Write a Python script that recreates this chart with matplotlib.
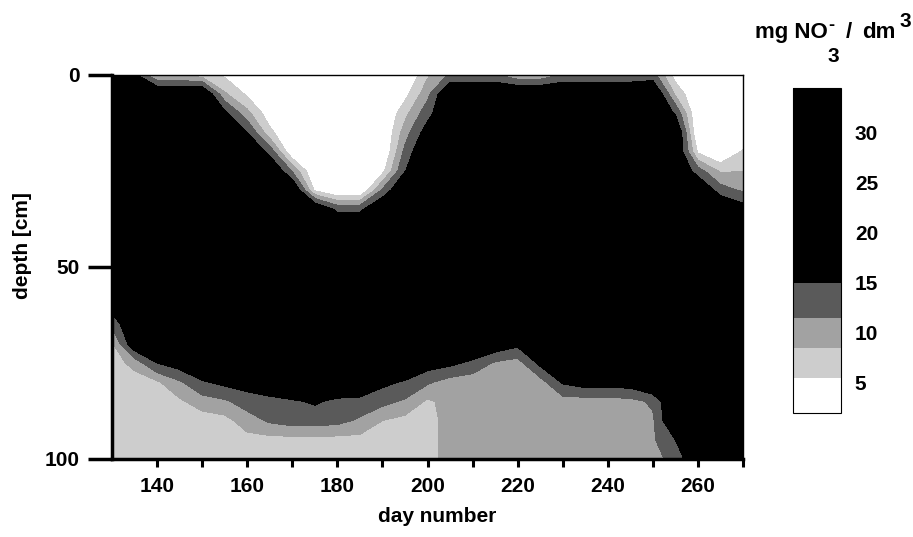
import numpy as np
import matplotlib
matplotlib.use('Agg')
from matplotlib import pyplot as plt

plt.rcParams['font.family'] = ['Liberation Sans', 'DejaVu Sans']
plt.rcParams['font.weight'] = 'bold'

# sampling grid (day number, depth in cm)
days = [130, 135, 140, 145, 150, 155, 160, 165, 170, 175, 180, 185, 190, 195, 200,
        205, 210, 215, 220, 225, 230, 235, 240, 245, 250, 255, 260, 265, 270]
depths = [0, 5, 10, 15, 20, 25, 30, 35, 40, 45, 50, 55, 60, 65, 70, 75, 80, 85, 90, 95, 100]

# nitrate (mg NO3- / dm3), one depth profile per day
profiles = [
    [20, 20, 20, 20, 20, 20, 20, 20, 20, 20, 20, 20, 17, 12, 8, 7, 7, 7, 7, 7, 7],          # 130
    [16, 20, 20, 20, 20, 20, 20, 20, 20, 20, 20, 20, 20, 20, 18, 9.5, 7, 6.5, 6.5, 6.5, 6.5],  # 135
    [8, 20, 20, 20, 20, 20, 20, 20, 20, 20, 20, 20, 20, 20, 20, 15, 8, 6.5, 6.5, 6.5, 6.5],    # 140
    [8, 20, 20, 20, 20, 20, 20, 20, 20, 20, 20, 20, 20, 20, 20, 17, 11, 8, 6.5, 6.5, 6.5],     # 145
    [7, 20, 20, 20, 20, 20, 20, 20, 20, 20, 20, 20, 20, 20, 20, 20, 14.5, 10, 7, 6.5, 6.5],    # 150
    [5, 9, 16, 20, 20, 20, 20, 20, 20, 20, 20, 20, 20, 20, 20, 20, 16, 11, 7.5, 7, 7],         # 155
    [3, 5, 9.5, 15, 20, 20, 20, 20, 20, 20, 20, 20, 20, 20, 20, 20, 17, 13, 10, 7.5, 7],       # 160
    [2, 2, 3.5, 6.4, 13.7, 20, 20, 20, 20, 20, 20, 20, 20, 20, 20, 20, 19, 13.5, 12, 7.5, 7],  # 165
    [2, 2, 2, 2, 2.5, 11.2, 20, 20, 20, 20, 20, 20, 20, 20, 20, 20, 20, 14.5, 13, 7.5, 7],     # 170
    [2, 2, 2, 2, 2, 2, 5, 20, 20, 20, 20, 20, 20, 20, 20, 20, 20, 15.5, 13, 7.5, 7],           # 175
    [2, 2, 2, 2, 2, 2, 2, 14, 20, 20, 20, 20, 20, 20, 20, 20, 20, 14, 12.5, 7.5, 7],           # 180
    [2, 2, 2, 2, 2, 2, 2, 14, 20, 20, 20, 20, 20, 20, 20, 20, 20, 13.5, 11, 7.5, 7],           # 185
    [2, 2, 2, 2, 2, 4.5, 12, 20, 20, 20, 20, 20, 20, 20, 20, 20, 16, 12.5, 8.5, 7, 7],         # 190
    [2, 4.5, 7.5, 10, 12.4, 14.8, 20, 20, 20, 20, 20, 20, 20, 20, 20, 20, 14.5, 11, 7.5, 7, 7],  # 195
    [8, 10.5, 13.5, 17, 20, 20, 20, 20, 20, 20, 20, 20, 20, 20, 20, 17, 12, 8, 7.5, 7.5, 7.5],  # 200
    [12, 20, 20, 20, 20, 20, 20, 20, 20, 20, 20, 20, 20, 20, 20, 16, 10, 9.5, 9.5, 9.5, 9.5],  # 205
    [12, 20, 20, 20, 20, 20, 20, 20, 20, 20, 20, 20, 20, 20, 20, 14, 9.5, 9.5, 9.5, 9.5, 9.5],  # 210
    [12, 20, 20, 20, 20, 20, 20, 20, 20, 20, 20, 20, 20, 20, 18, 11, 9.5, 9.5, 9.5, 9.5, 9.5],  # 215
    [9, 20, 20, 20, 20, 20, 20, 20, 20, 20, 20, 20, 20, 20, 16, 10, 9.5, 9.5, 9.5, 9.5, 9.5],   # 220
    [9, 20, 20, 20, 20, 20, 20, 20, 20, 20, 20, 20, 20, 20, 20, 16, 10, 9.5, 10, 10.5, 10.5],  # 225
    [12, 20, 20, 20, 20, 20, 20, 20, 20, 20, 20, 20, 20, 20, 20, 20, 15.5, 10, 10, 10.5, 11],  # 230
    [12, 20, 20, 20, 20, 20, 20, 20, 20, 20, 20, 20, 20, 20, 20, 20, 17, 10, 10.5, 11, 11],    # 235
    [12, 20, 20, 20, 20, 20, 20, 20, 20, 20, 20, 20, 20, 20, 20, 20, 17, 10, 10.5, 11, 11],    # 240
    [12, 20, 20, 20, 20, 20, 20, 20, 20, 20, 20, 20, 20, 20, 20, 20, 17, 10.5, 11, 11.5, 11.5],  # 245
    [13, 20, 20, 20, 20, 20, 20, 20, 20, 20, 20, 20, 20, 20, 20, 20, 20, 12, 11, 11, 11],      # 250
    [4, 8, 14.5, 20, 20, 20, 20, 20, 20, 20, 20, 20, 20, 20, 20, 20, 20, 20, 20, 15, 12],      # 255
    [2, 2, 2, 2, 5, 13, 20, 20, 20, 20, 20, 20, 20, 20, 20, 20, 20, 20, 20, 20, 20],           # 260
    [2, 2, 2, 2, 2, 8, 13, 20, 20, 20, 20, 20, 20, 20, 20, 20, 20, 20, 20, 20, 20],            # 265
    [2, 2, 2, 2, 6, 8.5, 11, 17, 20, 20, 20, 20, 20, 20, 20, 20, 20, 20, 20, 20, 20],          # 270
]

# colour classes of the legend bar
levels = [2, 5.5, 8.5, 11.5, 15, 34.4]
shades = ['#ffffff', '#cdcdcd', '#a2a2a2', '#5a5a5a', '#000000']
cbar_ticks = [5, 10, 15, 20, 25, 30]

conc = np.array(profiles).T

W, H = 913, 537
fig = plt.figure(figsize=(W / 100, H / 100), dpi=100)
ax = fig.add_axes([112 / W, 1 - 459 / H, 631 / W, 384 / H])

cf = ax.contourf(days, depths, conc, levels=levels, colors=shades)

ax.set_xlim(130, 270)
ax.set_ylim(100, 0)

ax.set_xticks([140, 160, 180, 200, 220, 240, 260])
ax.set_xticks([150, 170, 190, 210, 230, 250, 270], minor=True)
ax.set_yticks([0, 50, 100])
ax.tick_params(axis='x', which='both', direction='out', length=6, width=2.2, pad=7, labelsize=15)
ax.tick_params(axis='y', direction='out', length=17, width=2.5, pad=6, labelsize=15)

for side in ['top', 'right']:
    ax.spines[side].set_linewidth(1.0)
ax.spines['bottom'].set_linewidth(2.5)
ax.spines['left'].set_linewidth(2.5)

ax.set_xlabel('day number', fontsize=15, fontweight='bold')
ax.xaxis.set_label_coords(0.515, -0.125)
ax.set_ylabel('depth [cm]', fontsize=15, fontweight='bold')
ax.yaxis.set_label_coords(-0.127, 0.557)

cax = fig.add_axes([793 / W, 1 - 413 / H, 48 / W, 325 / H])
cb = fig.colorbar(cf, cax=cax, ticks=cbar_ticks, spacing='proportional')
cb.ax.tick_params(length=0, pad=10, labelsize=15)
cb.outline.set_linewidth(0.8)

# unit label above the colour bar: mg NO3- / dm3, pieces placed like the original
fig.text(755 / W, 1 - 38 / H, 'mg NO', fontsize=16, ha='left', va='baseline')
fig.text(828 / W, 1 - 30 / H, '-', fontsize=13, ha='left', va='baseline')
fig.text(827 / W, 1 - 62 / H, '3', fontsize=15, ha='left', va='baseline')
fig.text(846 / W, 1 - 38 / H, '/', fontsize=16, ha='left', va='baseline')
fig.text(862 / W, 1 - 38 / H, 'dm', fontsize=16, ha='left', va='baseline')
fig.text(899 / W, 1 - 27 / H, '3', fontsize=15, ha='left', va='baseline')

fig.savefig('out.png', dpi=100)
